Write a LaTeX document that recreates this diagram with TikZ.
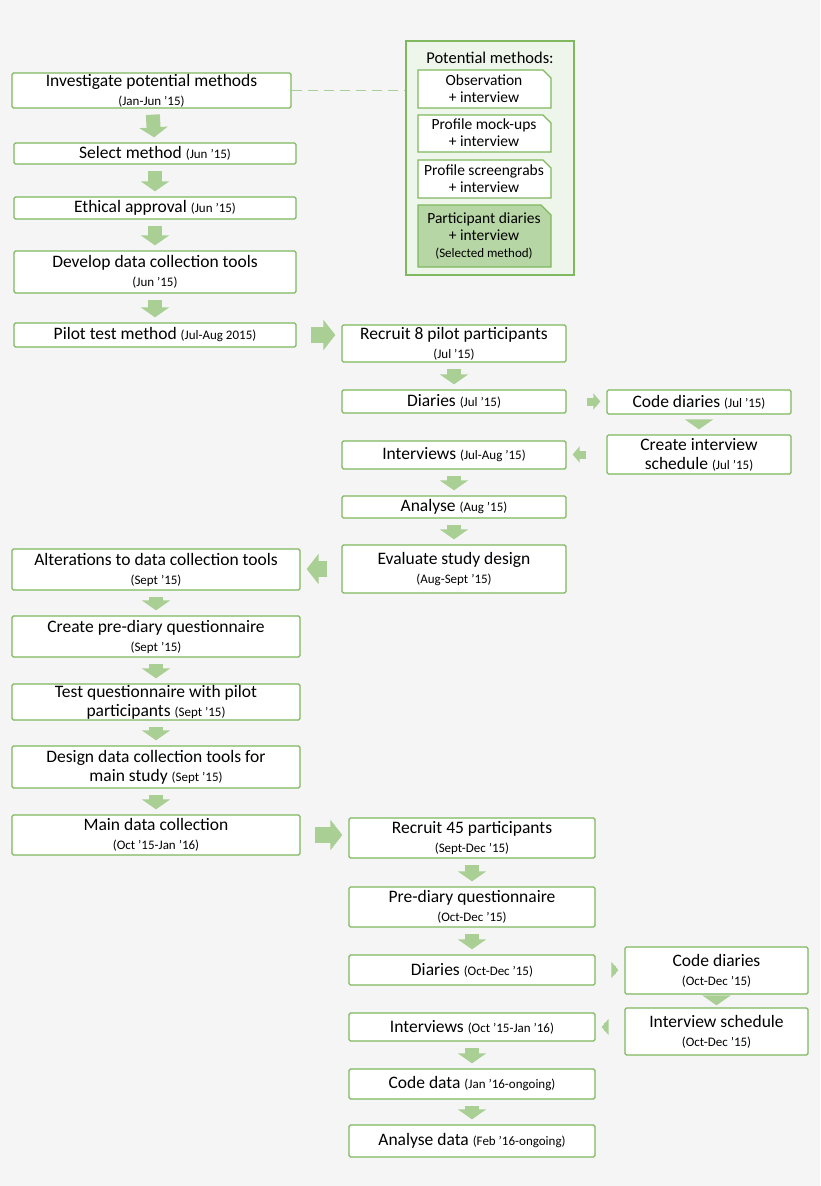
\documentclass[tikz,border=0pt]{standalone}
\usepackage{fontspec}
\setmainfont{Carlito}
\usetikzlibrary{arrows.meta}
\definecolor{bg}{HTML}{F5F5F5}
\definecolor{boxline}{HTML}{7FB85E}
\definecolor{arrowgreen}{HTML}{A9CF94}
\definecolor{pale}{HTML}{EEF5EA}
\definecolor{chosen}{HTML}{B7D6A5}
\newcommand{\dt}[1]{{\fontsize{13}{15}\selectfont #1}}
\tikzset{
  stage/.style={draw=boxline, line width=1.3pt, fill=white, rounded corners=1.5pt,
    align=center, inner sep=1pt, font=\fontsize{17.5}{19}\selectfont},
  flow/.style={draw=arrowgreen, line width=14pt,
    -{Triangle[width=28pt,length=10pt]}, shorten <=6pt, shorten >=5pt},
  wide/.style={draw=arrowgreen, line width=16pt,
    -{Triangle[width=30pt,length=12pt]}, shorten <=14pt, shorten >=6pt},
  tiny/.style={draw=arrowgreen, line width=8pt,
    -{Triangle[width=16pt,length=7pt]}, shorten <=20pt, shorten >=6pt},
  snip/.style={draw=boxline, line width=1.1pt},
}
\begin{document}
\begin{tikzpicture}[x=1pt,y=-1pt]
  \fill[bg] (0,0) rectangle (820,1186);
  \useasboundingbox (0,0) rectangle (820,1186);
  % potential methods
  \node[draw=boxline, line width=1.3pt, fill=pale, minimum width=168pt, minimum height=234pt] (methods) at (490,158) {};
  \node[font=\fontsize{16.5}{18}\selectfont] (mhead) at (490,58) {Potential methods:};
  \draw[snip, fill=white] (418,70) -- (543,70) -- (551,78) -- (551,108) -- (418,108) -- cycle;
  \node[align=center, font=\fontsize{15.5}{17}\selectfont] (m1) at (484,89) {Observation\\+ interview};
  \draw[snip, fill=white] (418,115) -- (543,115) -- (551,123) -- (551,152) -- (418,152) -- cycle;
  \node[align=center, font=\fontsize{15.5}{17}\selectfont] (m2) at (484,133) {Profile mock-ups\\+ interview};
  \draw[snip, fill=white] (418,160) -- (543,160) -- (551,168) -- (551,198) -- (418,198) -- cycle;
  \node[align=center, font=\fontsize{15.5}{17}\selectfont] (m3) at (484,179) {Profile screengrabs\\+ interview};
  \draw[snip, fill=chosen] (418,205) -- (541,205) -- (551,215) -- (551,267) -- (418,267) -- cycle;
  \node[align=center, font=\fontsize{15.5}{17}\selectfont] (m4) at (484,236) {Participant diaries\\+ interview\\\dt{(Selected method)}};

  % left column
  \node[stage, minimum width=279pt, minimum height=35pt] (invest) at (151.5,90.5) {Investigate potential methods\\\dt{(Jan-Jun ’15)}};
  \node[stage, minimum width=282pt, minimum height=21pt] (select) at (155,153.5) {Select method \dt{(Jun ’15)}};
  \node[stage, minimum width=282pt, minimum height=22pt] (ethics) at (155,208) {Ethical approval \dt{(Jun ’15)}};
  \node[stage, minimum width=282pt, minimum height=42pt] (tools) at (155,272) {Develop data collection tools\\\dt{(Jun ’15)}};
  \node[stage, minimum width=282pt, minimum height=24pt] (pilot) at (155,335) {Pilot test method \dt{(Jul-Aug 2015)}};
  \node[stage, minimum width=288pt, minimum height=41pt] (alter) at (156,569.5) {Alterations to data collection tools\\\dt{(Sept ’15)}};
  \node[stage, minimum width=288pt, minimum height=41pt] (prequest) at (156,636.5) {Create pre-diary questionnaire\\\dt{(Sept ’15)}};
  \node[stage, minimum width=288pt, minimum height=36pt] (testq) at (156,702) {Test questionnaire with pilot\\participants \dt{(Sept ’15)}};
  \node[stage, minimum width=288pt, minimum height=42pt] (design) at (156,767) {Design data collection tools for\\main study \dt{(Sept ’15)}};
  \node[stage, minimum width=288pt, minimum height=40pt] (maindata) at (156,835) {Main data collection\\\dt{(Oct ’15-Jan ’16)}};

  % pilot study
  \node[stage, minimum width=224pt, minimum height=37pt] (precruit) at (454,343.5) {Recruit 8 pilot participants\\\dt{(Jul ’15)}};
  \node[stage, minimum width=224pt, minimum height=23pt] (pdiaries) at (454,401.5) {Diaries \dt{(Jul ’15)}};
  \node[stage, minimum width=184pt, minimum height=24pt] (pcode) at (699,402) {Code diaries \dt{(Jul ’15)}};
  \node[stage, minimum width=184pt, minimum height=39pt] (pschedule) at (699,454.5) {Create interview\\schedule \dt{(Jul ’15)}};
  \node[stage, minimum width=224pt, minimum height=28pt] (pinterviews) at (454,455) {Interviews \dt{(Jul-Aug ’15)}};
  \node[stage, minimum width=224pt, minimum height=22pt] (panalyse) at (454,507) {Analyse \dt{(Aug ’15)}};
  \node[stage, minimum width=224pt, minimum height=48pt] (evaluate) at (454,569) {Evaluate study design\\\dt{(Aug-Sept ’15)}};

  % main study
  \node[stage, minimum width=246pt, minimum height=40pt] (recruit) at (472,838) {Recruit 45 participants\\\dt{(Sept-Dec ’15)}};
  \node[stage, minimum width=246pt, minimum height=40pt] (prediary) at (472,907) {Pre-diary questionnaire\\\dt{(Oct-Dec ’15)}};
  \node[stage, minimum width=246pt, minimum height=30pt] (diaries) at (472,970) {Diaries \dt{(Oct-Dec ’15)}};
  \node[stage, minimum width=183pt, minimum height=47pt] (code) at (716.5,970.5) {Code diaries\\\dt{(Oct-Dec ’15)}};
  \node[stage, minimum width=183pt, minimum height=47pt] (schedule) at (716.5,1031.5) {Interview schedule\\\dt{(Oct-Dec ’15)}};
  \node[stage, minimum width=246pt, minimum height=28pt] (interviews) at (472,1027) {Interviews \dt{(Oct ’15-Jan ’16)}};
  \node[stage, minimum width=246pt, minimum height=30pt] (codedata) at (472,1084) {Code data \dt{(Jan ’16-ongoing)}};
  \node[stage, minimum width=246pt, minimum height=32pt] (analyse) at (472,1141) {Analyse data \dt{(Feb ’16-ongoing)}};

  % connectors
  \draw[arrowgreen, line width=1.6pt, dashed, dash pattern=on 10pt off 6pt] (invest.east) -- (invest.east -| methods.west);
  \draw[flow] (invest) -- (select);
  \draw[flow] (select) -- (ethics);
  \draw[flow] (ethics) -- (tools);
  \draw[flow] (tools) -- (pilot);
  \draw[wide] (pilot.east) -- (pilot.east -| precruit.west);
  \draw[flow] (precruit) -- (pdiaries);
  \draw[tiny] (pdiaries.east) -- (pdiaries.east -| pcode.west);
  \draw[flow] (pcode) -- (pschedule);
  \draw[tiny] (pschedule.west) -- (pschedule.west -| pinterviews.east);
  \draw[flow] (pinterviews) -- (panalyse);
  \draw[flow] (panalyse) -- (evaluate);
  \draw[wide] (evaluate.west) -- (evaluate.west -| alter.east);
  \draw[flow] (alter) -- (prequest);
  \draw[flow] (prequest) -- (testq);
  \draw[flow] (testq) -- (design);
  \draw[flow] (design) -- (maindata);
  \draw[wide] (maindata.east) -- (maindata.east -| recruit.west);
  \draw[flow] (recruit) -- (prediary);
  \draw[flow] (prediary) -- (diaries);
  \draw[tiny] (diaries.east) -- (diaries.east -| code.west);
  \draw[flow, shorten <=2pt, shorten >=2pt] (code) -- (schedule);
  \draw[tiny] (schedule.west |- interviews.east) -- (interviews.east);
  \draw[flow] (interviews) -- (codedata);
  \draw[flow] (codedata) -- (analyse);
\end{tikzpicture}
\end{document}
